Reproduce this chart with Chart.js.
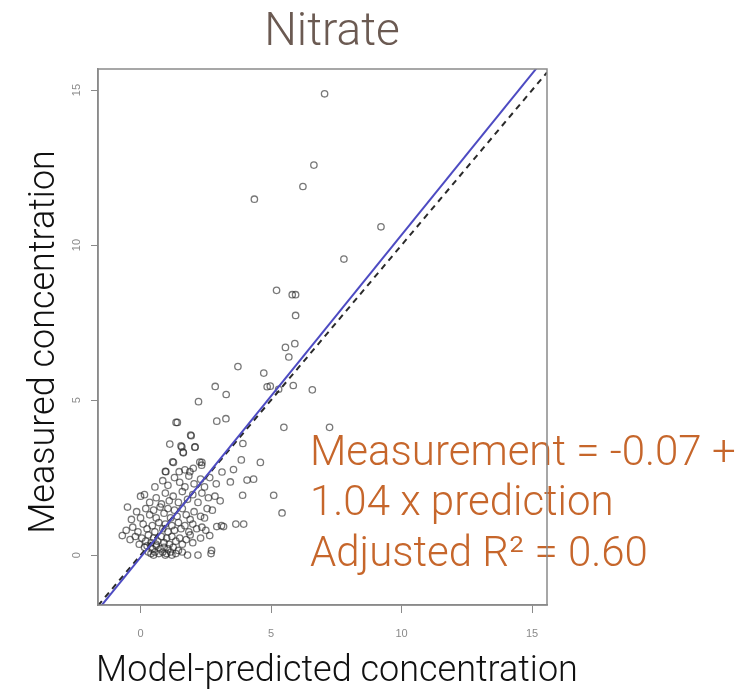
<!DOCTYPE html>
<html>
<head>
<meta charset="utf-8">
<script src="https://cdn.jsdelivr.net/npm/chart.js@4.4.1/dist/chart.umd.min.js"></script>
<style>
  html, body { margin: 0; padding: 0; background: #fff; }
  #wrap { width: 756px; height: 696px; }
</style>
</head>
<body>
<div id="wrap"><canvas id="myChart" width="756" height="696"></canvas></div>
<script>
// model-predicted (x) vs measured (y) nitrate
var predicted = [
  0.15, 0.3, 0.4, 0.45, 0.55, 0.6, 0.7, 0.75, 0.85, 0.9, 1.0, 1.05, 1.15, 1.25, 1.35, 1.45, 1.6, 1.8, 2.2, 2.7, 2.72, 0.5, 0.95, 1.2,
  -0.4, -0.2, -0.05, 0.05, 0.2, 0.3, 0.4, 0.5, 0.65, 0.8, 0.9, 1.0, 1.1, 1.2, 1.35, 1.5, 1.6, 1.75, 1.9, 2.0, 2.3, 2.65, -0.7, 0.6, 0.25,
  -0.55, -0.3, -0.1, 0.1, 0.25, 0.45, 0.55, 0.7, 0.85, 0.95, 1.05, 1.2, 1.3, 1.45, 1.55, 1.7, 1.85, 2.0, 2.15, 2.35, 2.5, 2.92, 3.18, 3.1, 3.65, 3.95,
  -0.5, -0.35, -0.15, 0.0, 0.2, 0.35, 0.5, 0.6, 0.75, 0.9, 1.05, 1.15, 1.3, 1.4, 1.6, 1.75, 1.9, 2.05, 2.3, 2.55, 2.45, 2.75, 5.42,
  0.15, 0.35, 0.6, 0.8, 0.95, 1.1, 1.25, 1.45, 1.6, 1.8, 2.0, 2.2, 2.35, 2.6, 2.85, 3.05, 3.91, 5.1, 0.0,
  0.55, 0.85, 1.05, 1.3, 1.5, 1.7, 1.85, 2.05, 2.3, 2.45, 2.65, 3.44, 4.08, 4.33, 2.9,
  0.95, 1.23, 1.48, 1.7, 1.89, 2.02, 2.27, 2.34, 3.12, 3.56, 2.35, 1.26, 3.86, 4.59, 0.97,
  1.12, 1.55, 1.63, 2.08, 1.92, 1.58, 2.09, 1.64, 3.92, 1.94, 1.36, 1.41, 2.92, 3.27, 5.49, 7.24,
  2.22, 2.86, 3.28, 3.73, 4.72, 4.85, 4.97, 5.29, 5.85, 6.58, 5.55, 5.91, 5.68, 5.94, 5.81, 5.94, 5.21, 7.79, 9.21, 4.36, 6.22, 6.64, 7.05
];
var measured = [
  0.25, 0.1, 0.05, 0.2, 0.1, 0.3, 0.05, 0.2, 0.1, 0.25, 0.05, 0.2, 0.1, 0.25, 0.05, 0.15, 0.1, 0.0, 0.0, 0.05, 0.15, 0.0, 0.0, 0.0,
  0.5, 0.6, 0.35, 0.55, 0.45, 0.65, 0.4, 0.55, 0.45, 0.6, 0.4, 0.55, 0.35, 0.6, 0.45, 0.55, 0.35, 0.5, 0.65, 0.4, 0.55, 0.63, 0.63, 0.35, 0.3,
  0.8, 0.9, 0.75, 1.0, 0.85, 0.95, 0.75, 1.05, 0.85, 1.0, 0.75, 0.95, 0.8, 1.05, 0.85, 0.95, 0.75, 1.0, 0.85, 0.9, 0.8, 0.92, 0.92, 0.95, 1.0, 1.0,
  1.55, 1.15, 1.4, 1.2, 1.5, 1.3, 1.45, 1.2, 1.55, 1.35, 1.5, 1.2, 1.45, 1.25, 1.5, 1.3, 1.15, 1.4, 1.25, 1.5, 1.2, 1.45, 1.36,
  1.95, 1.7, 1.85, 1.65, 2.0, 1.75, 1.9, 1.7, 2.05, 1.8, 1.95, 1.7, 2.0, 1.85, 1.9, 1.75, 1.93, 1.93, 1.9,
  2.2, 2.4, 2.25, 2.5, 2.35, 2.2, 2.55, 2.3, 2.45, 2.2, 2.5, 2.36, 2.42, 2.45, 2.3,
  2.7, 3.01, 2.69, 2.75, 2.69, 2.8, 3.0, 2.9, 2.68, 2.76, 2.99, 2.99, 3.07, 2.99, 2.69,
  3.58, 3.52, 3.32, 3.48, 3.87, 3.49, 3.49, 3.3, 3.6, 3.85, 4.28, 4.28, 4.32, 4.4, 4.12, 4.12,
  4.95, 5.44, 5.18, 6.08, 5.87, 5.43, 5.45, 5.35, 5.47, 5.33, 6.7, 6.82, 6.39, 7.73, 8.4, 8.4, 8.54, 9.55, 10.59, 11.48, 11.89, 12.58, 14.88
];

// axis ranges and ticks
var xRange = [-1.63, 15.57];
var yRange = [-1.61, 15.68];
var tickValues = [0, 5, 10, 15];

// fitted line: measurement = -0.07 + 1.04 x prediction
var fitIntercept = -0.07;
var fitSlope = 1.04;

var points = predicted.map(function (x, i) { return { x: x, y: measured[i] }; });
var oneToOne = xRange.map(function (x) { return { x: x, y: x }; });
var fitLine = xRange.map(function (x) { return { x: x, y: fitIntercept + fitSlope * x }; });

// titles, rotated y tick labels, fit label and the box round the plot
var frame = {
  id: 'frame',
  afterDraw: function (chart) {
    var ctx = chart.ctx;
    var a = chart.chartArea;
    var yScale = chart.scales.y;
    ctx.save();

    ctx.fillStyle = '#6b5a52';
    ctx.font = '300 46px Roboto';
    ctx.textAlign = 'center';
    ctx.textBaseline = 'alphabetic';
    ctx.fillText('Nitrate', 332, 45);

    ctx.fillStyle = '#111';
    ctx.font = '300 36px Roboto';
    ctx.fillText('Model-predicted concentration', 337, 681);

    ctx.save();
    ctx.translate(54, 342);
    ctx.rotate(-Math.PI / 2);
    ctx.fillText('Measured concentration', 0, 0);
    ctx.restore();

    // y tick labels read upwards, as in R
    ctx.fillStyle = '#8a8a8a';
    ctx.font = '11px "Liberation Sans"';
    ctx.textBaseline = 'middle';
    tickValues.forEach(function (v) {
      ctx.save();
      ctx.translate(77, yScale.getPixelForValue(v));
      ctx.rotate(-Math.PI / 2);
      ctx.fillText(String(v), 0, 0);
      ctx.restore();
    });

    ctx.fillStyle = '#c6662b';
    ctx.font = '300 42px Roboto';
    ctx.textAlign = 'left';
    ctx.textBaseline = 'alphabetic';
    ctx.fillText('Measurement = -0.07 +', 310, 465);
    ctx.fillText('1.04 x prediction', 310, 515);
    ctx.fillText('Adjusted R\u00B2 = 0.60', 310, 566);

    ctx.strokeStyle = '#8a8a8a';
    ctx.lineWidth = 1.5;
    ctx.strokeRect(a.left, a.top, a.right - a.left, a.bottom - a.top);
    ctx.restore();
  }
};

var graph = document.getElementById('myChart');

var myChart = new Chart(graph, {
  type: 'scatter',
  data: {
    datasets: [{
      data: fitLine,
      type: 'line',
      borderColor: '#4d4bc2',
      borderWidth: 2,
      pointRadius: 0,
      order: 0
    }, {
      data: oneToOne,
      type: 'line',
      borderColor: '#2a2a2a',
      borderWidth: 2,
      borderDash: [6, 5],
      pointRadius: 0,
      order: 1
    }, {
      data: points,
      pointRadius: 3.2,
      pointBorderWidth: 1.3,
      backgroundColor: 'rgba(0,0,0,0)',
      borderColor: 'rgba(30,30,30,0.6)',
      order: 2
    }]
  },
  options: {
    responsive: false,
    animation: false,
    layout: { padding: { top: 69, right: 209, left: 0, bottom: 0 } },
    plugins: {
      legend: { display: false },
      tooltip: { enabled: false }
    },
    scales: {
      x: {
        type: 'linear',
        min: xRange[0],
        max: xRange[1],
        afterBuildTicks: function (scale) {
          scale.ticks = tickValues.map(function (v) { return { value: v }; });
        },
        afterFit: function (scale) { scale.height = 91; },
        grid: { drawOnChartArea: false, drawTicks: true, tickLength: 8, color: '#8a8a8a' },
        border: { color: '#8a8a8a', width: 1.5 },
        ticks: { color: '#8a8a8a', padding: 14, font: { family: 'Liberation Sans', size: 11 } }
      },
      y: {
        type: 'linear',
        min: yRange[0],
        max: yRange[1],
        afterBuildTicks: function (scale) {
          scale.ticks = tickValues.map(function (v) { return { value: v }; });
        },
        afterFit: function (scale) { scale.width = 98; },
        grid: { drawOnChartArea: false, drawTicks: true, tickLength: 7, color: '#8a8a8a' },
        border: { color: '#8a8a8a', width: 1.5 },
        ticks: { callback: function () { return ''; } }
      }
    }
  },
  plugins: [frame]
}); // ends the chart
</script>
</body>
</html>
